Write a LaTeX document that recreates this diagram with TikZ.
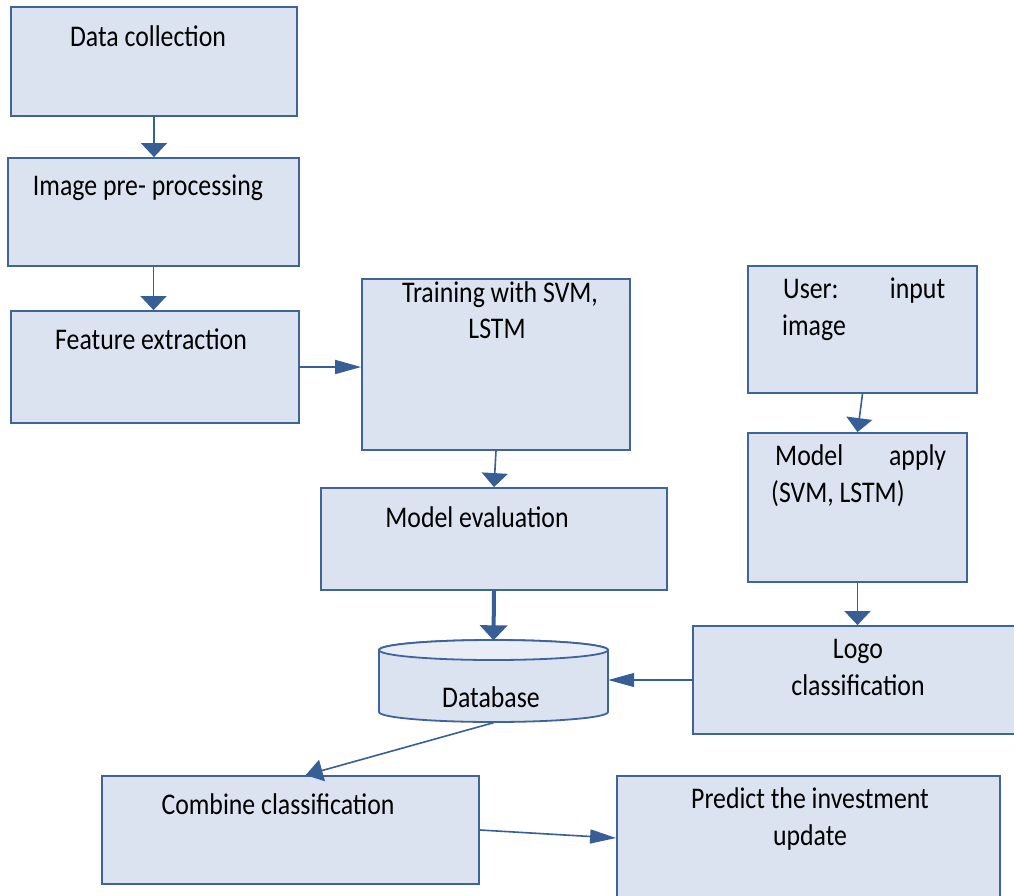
\documentclass[tikz,border=0pt]{standalone}
\usepackage{fontspec}
\setmainfont{Carlito}[FakeStretch=0.86]
\usetikzlibrary{arrows.meta,calc}
\definecolor{boxc}{RGB}{220,227,240}
\definecolor{topc}{RGB}{232,237,246}
\definecolor{bordc}{RGB}{62,100,155}
\definecolor{arrc}{RGB}{55,95,150}
\tikzset{
  box/.style={draw=bordc, fill=boxc, line width=1.8pt, inner sep=0pt},
  txt/.style={font=\fontsize{30}{37}\selectfont, text=black, inner sep=0pt},
  arrv/.style={draw=arrc, line width=1.6pt, -{Triangle[width=26pt,length=14pt]}},
  arrh/.style={draw=arrc, line width=1.6pt, -{Triangle[width=14pt,length=26pt]}},
  arrd/.style={draw=arrc, line width=1.6pt, -{Triangle[width=22pt,length=17pt]}},
  arrbig/.style={draw=arrc, line width=4pt, -{Triangle[width=27pt,length=15pt]}},
}
\begin{document}
\begin{tikzpicture}[x=1pt,y=-1pt]
\fill[white] (0,0) rectangle (1014,895);
\useasboundingbox (0,0) rectangle (1014,895);

% left column
\node[box, minimum width=286pt, minimum height=109pt] (b1) at (154,61.5) {};
\node[box, minimum width=291pt, minimum height=108pt] (b2) at (153.5,212) {};
\node[box, minimum width=288pt, minimum height=112pt] (b3) at (155,367) {};
% middle column
\node[box, minimum width=268pt, minimum height=171pt] (b4) at (496,364.5) {};
\node[box, minimum width=346pt, minimum height=102pt] (b5) at (494,539) {};
% right column
\node[box, minimum width=229pt, minimum height=127pt] (usr) at (862.5,329.5) {};
\node[box, minimum width=219pt, minimum height=149pt] (app) at (857.5,507.5) {};
\node[box, minimum width=325pt, minimum height=108pt] (logo) at (855.5,680) {};
% bottom row
\node[box, minimum width=377pt, minimum height=108pt] (comb) at (290.5,830) {};
\node[box, minimum width=383pt, minimum height=124pt] (pred) at (808.5,838) {};

% database cylinder
\node[inner sep=0pt, minimum width=229pt, minimum height=82pt] (db) at (493.5,681.5) {};
\filldraw[draw=bordc, fill=boxc, line width=1.8pt]
  (379,650) -- (379,712)
  arc[start angle=180, end angle=360, x radius=114.5pt, y radius=10pt]
  -- (608,650)
  arc[start angle=0, end angle=180, x radius=114.5pt, y radius=10pt] -- cycle;
\filldraw[draw=bordc, fill=topc, line width=1.8pt]
  (493.5,650) ellipse [x radius=114.5pt, y radius=10pt];

% labels
\node[txt, anchor=base] (t1) at (148,46) {Data collection};
\node[txt, anchor=base] (t2) at (148,195) {Image pre- processing};
\node[txt, anchor=base] (t3) at (151,349) {Feature extraction};
\node[txt, anchor=base] (t4a) at (500,302) {Training with SVM,};
\node[txt, anchor=base] (t4b) at (497,338) {LSTM};
\node[txt, anchor=base] (t5) at (477,527) {Model evaluation};
\node[txt, anchor=base] (tdb) at (491,707) {Database};
\node[txt, anchor=base west] (tu1) at (783,298) {\makebox[162pt][l]{User:\hfill input}};
\node[txt, anchor=base west] (tu2) at (782,335) {image};
\node[txt, anchor=base west] (ta1) at (775,465) {\makebox[171pt][l]{Model\hfill apply}};
\node[txt, anchor=base west] (ta2) at (771,502) {(SVM, LSTM)};
\node[txt, anchor=base] (tl1) at (858,658) {Logo};
\node[txt, anchor=base] (tl2) at (858,695) {classification};
\node[txt, anchor=base] (tc) at (278,814) {Combine classification};
\node[txt, anchor=base] (tp1) at (810,808) {Predict the investment};
\node[txt, anchor=base] (tp2) at (810,845) {update};

% connectors
\draw[arrv] (b1.south) -- (b1.south |- b2.north);
\draw[arrv] (b2.south) -- (b2.south |- b3.north);
\draw[arrh] (b3.east) -- (b3.east -| b4.west);
\draw[arrv] (b4.south) -- (b5.north);
\draw[arrbig] (b5.south) -- (db.north);
\draw[arrv] (usr.south) -- (app.north);
\draw[arrv] (app.south) -- (app.south |- logo.north);
\draw[arrh, line width=1.2pt] (logo.west) -- (logo.west -| db.east);
\coordinate (cin) at ($(comb.north west)!0.54!(comb.north east)$);
\draw[arrd] (db.south) -- (cin);
\draw[arrh] (comb.east) -- (pred.west);
\end{tikzpicture}
\end{document}
